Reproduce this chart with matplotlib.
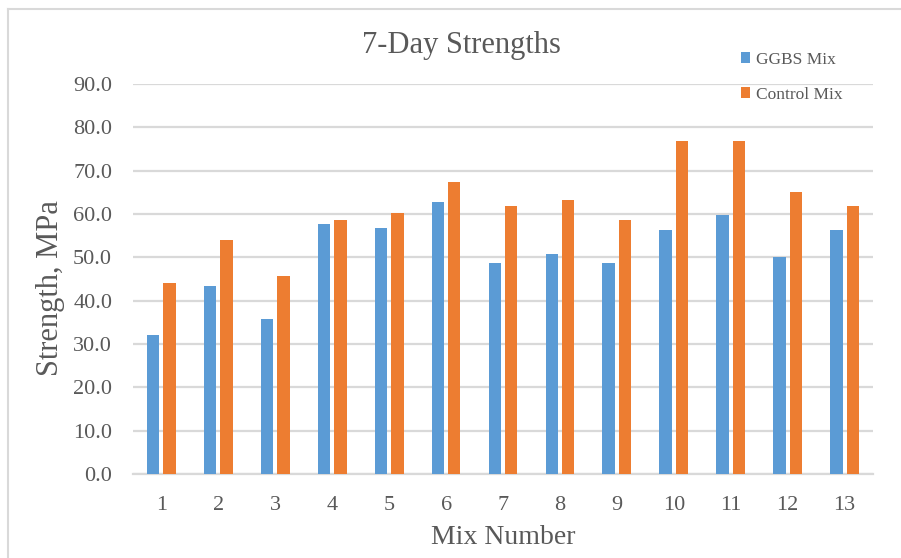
import matplotlib
matplotlib.use("Agg")
import matplotlib.pyplot as plt
from matplotlib.lines import Line2D
import numpy as np

mixes = [str(i) for i in range(1, 14)]
ggbs = [32.0, 43.5, 35.8, 57.8, 56.7, 62.8, 48.8, 50.8, 48.8, 56.2, 59.8, 50.1, 56.2]
control = [44.0, 54.0, 45.7, 58.6, 60.2, 67.4, 61.9, 63.2, 58.6, 76.8, 76.8, 65.0, 61.9]
y_ticks = [0, 10, 20, 30, 40, 50, 60, 70, 80, 90]

BLUE = "#5B9BD5"
ORANGE = "#ED7D31"
TEXT = "#595959"
GRID = "#D9D9D9"

plt.rcParams["font.family"] = ["Liberation Serif", "DejaVu Serif"]

W, H = 901, 558
fig = plt.figure(figsize=(W / 100, H / 100), dpi=100)
ax = fig.add_axes([133 / W, 1 - 474 / H, (873 - 133) / W, (474 - 84) / H])

x = np.arange(1, len(mixes) + 1)
bw = 0.218
off = 0.144
ax.bar(x - off, ggbs, width=bw, color=BLUE, label="GGBS Mix", zorder=3)
ax.bar(x + off, control, width=bw, color=ORANGE, label="Control Mix", zorder=3)

ax.set_xlim(0.5, len(mixes) + 0.5)
ax.set_ylim(0, 90)
ax.set_yticks(y_ticks)
ax.set_yticklabels([f"{v:.1f}" for v in y_ticks])
ax.set_xticks(x)
ax.set_xticklabels(mixes)
ax.tick_params(axis="both", length=0, labelsize=16, colors=TEXT)
ax.tick_params(axis="y", pad=15)
ax.tick_params(axis="x", pad=16)

ax.grid(axis="y", color=GRID, linewidth=1.6, zorder=0)
for s in ["left", "right", "top"]:
    ax.spines[s].set_visible(False)
ax.spines["bottom"].set_color(GRID)
ax.spines["bottom"].set_linewidth(1.6)

ax.set_xlabel("Mix Number", fontsize=20, color=TEXT)
ax.xaxis.set_label_coords((503 - 133) / 740, -(538 - 474) / 390)
ax.xaxis.label.set_va("center")
ax.set_ylabel("Strength, MPa", fontsize=22, color=TEXT)
ax.yaxis.set_label_coords(-(133 - 51) / 740, (474 - 288) / 390)
ax.yaxis.label.set_va("center")

fig.text(461 / W, 1 - 45 / H, "7-Day Strengths", ha="center", va="center",
         fontsize=22, color=TEXT)

fig.legend(loc="upper left", bbox_to_anchor=(725 / W, 1 - 36 / H),
           frameon=False, fontsize=12.5, labelcolor=TEXT,
           handlelength=0.55, handleheight=0.55, handletextpad=0.35,
           labelspacing=1.1)

# chart-area border (left and top edges)
fig.add_artist(Line2D([8 / W, 8 / W], [0, 1 - 9 / H], transform=fig.transFigure,
                      color=GRID, linewidth=1.5))
fig.add_artist(Line2D([8 / W, 1], [1 - 9 / H, 1 - 9 / H], transform=fig.transFigure,
                      color=GRID, linewidth=1.5))

fig.savefig("out.png", dpi=100)
